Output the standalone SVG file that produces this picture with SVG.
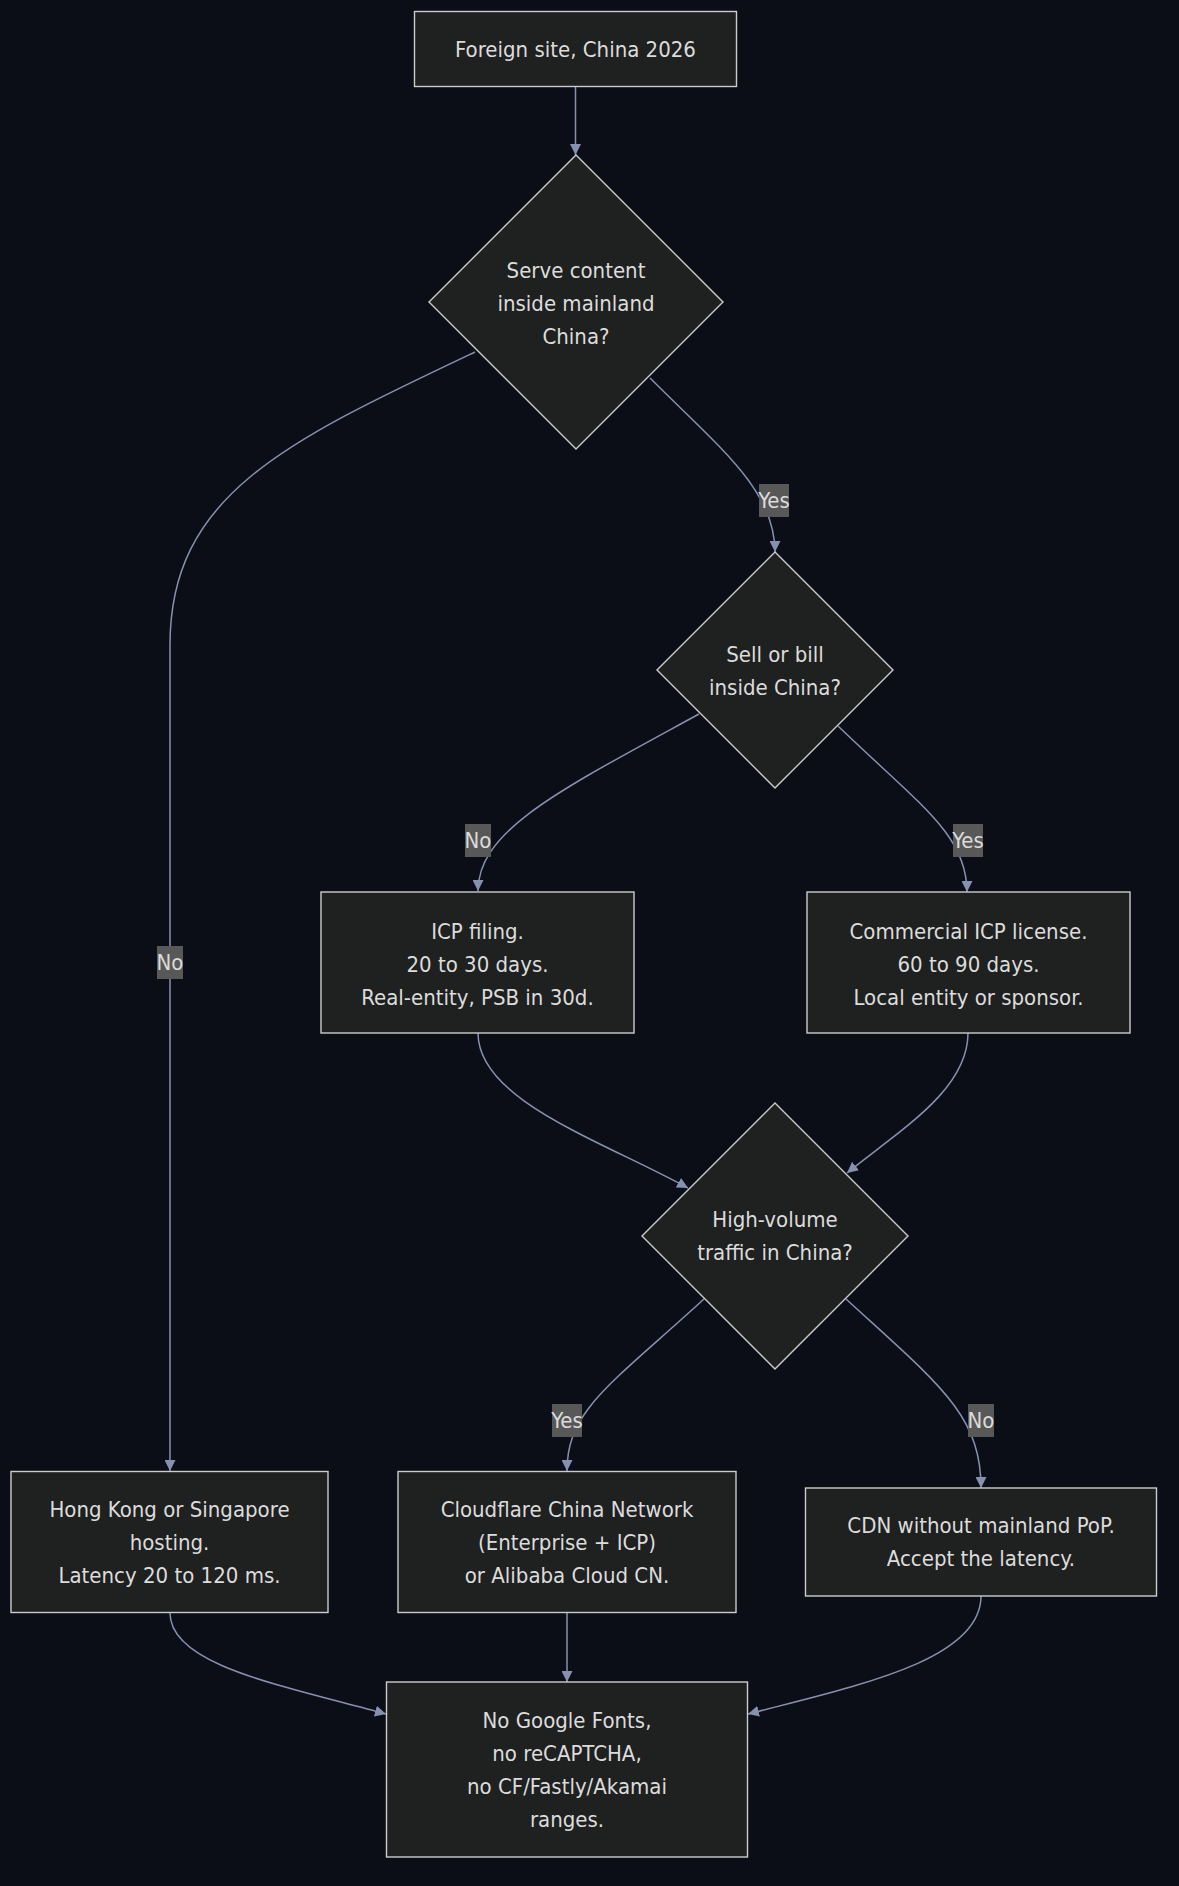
<svg xmlns="http://www.w3.org/2000/svg" width="1179" height="1886" viewBox="0 0 1179 1886">
<style>
.node rect, .node polygon { fill: #1f2020; stroke: #cccccc; stroke-width: 1.4; }
.node text, .lbl text { font-family: "DejaVu Sans Condensed", "DejaVu Sans", sans-serif; font-stretch: condensed; font-size: 22px; fill: #dcdcdc; text-anchor: middle; dominant-baseline: central; }
.edges path { fill: none; stroke: #8890b0; stroke-width: 1.5; }
.lbl rect { fill: #585858; }
</style>
<defs>
<marker id="arr" viewBox="0 0 10 10" refX="10" refY="5" markerWidth="11" markerHeight="11" markerUnits="userSpaceOnUse" orient="auto">
<path d="M0,0 L10,5 L0,10 z" fill="#8890b0"/>
</marker>
</defs>
<rect x="0" y="0" width="1179" height="1886" fill="#0b0e17"/>

<g class="edges">
<path d="M575.5,86 L575.5,155" marker-end="url(#arr)"/>
<path d="M475,352 C285,442 170,495 170,645 L170,1471" marker-end="url(#arr)"/>
<path d="M650,378 C720,448 775,490 775,552" marker-end="url(#arr)"/>
<path d="M699,714 C560,790 478,830 478,891" marker-end="url(#arr)"/>
<path d="M838,726 C920,805 967,835 967,892" marker-end="url(#arr)"/>
<path d="M478,1033 C478,1100 600,1140 688,1188" marker-end="url(#arr)"/>
<path d="M968,1033 C968,1090 900,1130 847,1173" marker-end="url(#arr)"/>
<path d="M704,1299 C610,1385 567,1410 567,1471" marker-end="url(#arr)"/>
<path d="M846,1299 C940,1385 981,1415 981,1488" marker-end="url(#arr)"/>
<path d="M170,1613 C170,1665 280,1685 386,1714" marker-end="url(#arr)"/>
<path d="M567,1613 L567,1682" marker-end="url(#arr)"/>
<path d="M981,1596 C981,1660 860,1685 748,1714" marker-end="url(#arr)"/>
</g>

<g class="lbl" id="lbl-b-c"><rect x="759" y="484" width="30" height="33"/><text x="774" y="500.5">Yes</text></g>
<g class="lbl" id="lbl-b-g"><rect x="157" y="946" width="26" height="33"/><text x="170" y="962.5">No</text></g>
<g class="lbl" id="lbl-c-d"><rect x="465" y="824" width="26" height="33"/><text x="478" y="840.5">No</text></g>
<g class="lbl" id="lbl-c-e"><rect x="953" y="824" width="30" height="33"/><text x="968" y="840.5">Yes</text></g>
<g class="lbl" id="lbl-f-h"><rect x="552" y="1404" width="30" height="33"/><text x="567" y="1420.5">Yes</text></g>
<g class="lbl" id="lbl-f-i"><rect x="968" y="1404" width="26" height="33"/><text x="981" y="1420.5">No</text></g>

<g class="node" id="start">
<rect x="414.5" y="11.5" width="322" height="75"/>
<text x="575.5" y="49">Foreign site, China 2026</text>
</g>
<g class="node" id="q-serve">
<polygon points="576,155 723,302 576,449 429,302"/>
<text x="576" y="270">Serve content</text>
<text x="576" y="303">inside mainland</text>
<text x="576" y="336">China?</text>
</g>
<g class="node" id="q-sell">
<polygon points="775,552 893,670 775,788 657,670"/>
<text x="775" y="654.5">Sell or bill</text>
<text x="775" y="687.5">inside China?</text>
</g>
<g class="node" id="icp-filing">
<rect x="321" y="892" width="313" height="141"/>
<text x="477.5" y="931">ICP filing.</text>
<text x="477.5" y="964">20 to 30 days.</text>
<text x="477.5" y="997">Real-entity, PSB in 30d.</text>
</g>
<g class="node" id="icp-license">
<rect x="807" y="892" width="323" height="141"/>
<text x="968.5" y="931">Commercial ICP license.</text>
<text x="968.5" y="964">60 to 90 days.</text>
<text x="968.5" y="997">Local entity or sponsor.</text>
</g>
<g class="node" id="q-volume">
<polygon points="775,1103 908,1236 775,1369 642,1236"/>
<text x="775" y="1219.5">High-volume</text>
<text x="775" y="1252.5">traffic in China?</text>
</g>
<g class="node" id="hk-sg">
<rect x="11" y="1471.5" width="317" height="141"/>
<text x="169.5" y="1509">Hong Kong or Singapore</text>
<text x="169.5" y="1542">hosting.</text>
<text x="169.5" y="1575">Latency 20 to 120 ms.</text>
</g>
<g class="node" id="cf-china">
<rect x="398" y="1471.5" width="338" height="141"/>
<text x="567" y="1509">Cloudflare China Network</text>
<text x="567" y="1542">(Enterprise + ICP)</text>
<text x="567" y="1575">or Alibaba Cloud CN.</text>
</g>
<g class="node" id="cdn-nopop">
<rect x="805.5" y="1488" width="351" height="108"/>
<text x="981" y="1525.5">CDN without mainland PoP.</text>
<text x="981" y="1558.5">Accept the latency.</text>
</g>
<g class="node" id="no-google">
<rect x="386.5" y="1682" width="361" height="175"/>
<text x="567" y="1720">No Google Fonts,</text>
<text x="567" y="1753">no reCAPTCHA,</text>
<text x="567" y="1786">no CF/Fastly/Akamai</text>
<text x="567" y="1819">ranges.</text>
</g>
</svg>
